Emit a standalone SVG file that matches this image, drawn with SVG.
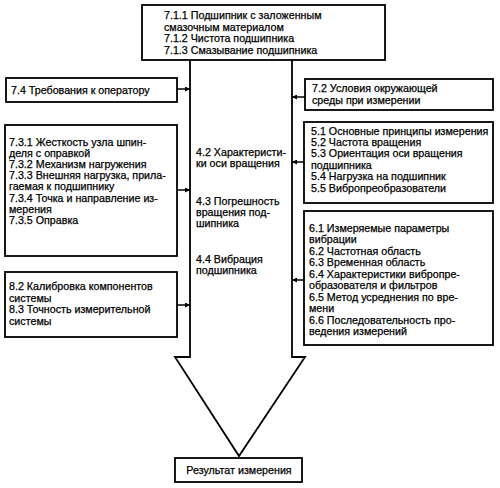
<svg xmlns="http://www.w3.org/2000/svg" width="500" height="488" viewBox="0 0 500 488">
<style>
.box{fill:#fff;stroke:#000;stroke-width:1.8}
.t{font-family:"Liberation Sans",Arial,sans-serif;font-size:10.7px;fill:#000;stroke:#000;stroke-width:0.25}
.c{fill:none;stroke:#000;stroke-width:1.5}
.big{fill:none;stroke:#000;stroke-width:1.8;stroke-linejoin:miter}
</style>
<defs>
<marker id="ah" viewBox="0 0 6 6" refX="6" refY="3" markerWidth="5" markerHeight="5" markerUnits="userSpaceOnUse" orient="auto">
<path d="M0,0 L6,3 L0,6 z" fill="#000"/>
</marker>
</defs>
<rect width="500" height="488" fill="#fff"/>
<g id="connectors">
<path class="big" d="M190,60 L190,357 L175,357 L239,456 L305,357 L292,357 L292,60"/>
<line class="c" x1="177" y1="89" x2="190" y2="89" marker-end="url(#ah)"/>
<line class="c" x1="177" y1="190" x2="190" y2="190" marker-end="url(#ah)"/>
<line class="c" x1="177" y1="305" x2="190" y2="305" marker-end="url(#ah)"/>
<line class="c" x1="305" y1="97" x2="292" y2="97" marker-end="url(#ah)"/>
<line class="c" x1="305" y1="162" x2="292" y2="162" marker-end="url(#ah)"/>
<line class="c" x1="305" y1="280" x2="292" y2="280" marker-end="url(#ah)"/>
</g>
<g id="n-top">
<rect class="box" x="142" y="5" width="243" height="55"/>
<text class="t" x="164" y="19">7.1.1 Подшипник с заложенным</text>
<text class="t" x="164" y="30.5">смазочным материалом</text>
<text class="t" x="164" y="42">7.1.2 Чистота подшипника</text>
<text class="t" x="164" y="53.5">7.1.3 Смазывание подшипника</text>
</g>
<g id="n-74">
<rect class="box" x="6" y="78" width="171" height="24"/>
<text class="t" x="11" y="93.5">7.4 Требования к оператору</text>
</g>
<g id="n-73">
<rect class="box" x="5" y="125" width="172" height="131"/>
<text class="t" x="9" y="145.5">7.3.1 Жесткость узла шпин-</text>
<text class="t" x="9" y="156.7">деля с оправкой</text>
<text class="t" x="9" y="167.9">7.3.2 Механизм нагружения</text>
<text class="t" x="9" y="179.1">7.3.3 Внешняя нагрузка, прила-</text>
<text class="t" x="9" y="190.3">гаемая к подшипнику</text>
<text class="t" x="9" y="201.5">7.3.4 Точка и направление из-</text>
<text class="t" x="9" y="212.7">мерения</text>
<text class="t" x="9" y="223.9">7.3.5 Оправка</text>
</g>
<g id="n-82">
<rect class="box" x="5" y="272" width="172" height="65"/>
<text class="t" x="9" y="290">8.2 Калибровка компонентов</text>
<text class="t" x="9" y="301.6">системы</text>
<text class="t" x="9" y="313.2">8.3 Точность измерительной</text>
<text class="t" x="9" y="324.8">системы</text>
</g>
<g id="n-center">
<text class="t" x="196" y="155.5">4.2 Характеристи-</text>
<text class="t" x="196" y="166.5">ки оси вращения</text>
<text class="t" x="196" y="204.5">4.3 Погрешность</text>
<text class="t" x="196" y="215.5">вращения под-</text>
<text class="t" x="196" y="226.5">шипника</text>
<text class="t" x="196" y="262.5">4.4 Вибрация</text>
<text class="t" x="196" y="273.5">подшипника</text>
</g>
<g id="n-72">
<rect class="box" x="305" y="79" width="188" height="31"/>
<text class="t" x="312" y="92">7.2 Условия окружающей</text>
<text class="t" x="312" y="104">среды при измерении</text>
</g>
<g id="n-5">
<rect class="box" x="304" y="122" width="189" height="81"/>
<text class="t" x="311" y="134.5">5.1 Основные принципы измерения</text>
<text class="t" x="311" y="145.9">5.2 Частота вращения</text>
<text class="t" x="311" y="157.3">5.3 Ориентация оси вращения</text>
<text class="t" x="311" y="168.7">подшипника</text>
<text class="t" x="311" y="180.1">5.4 Нагрузка на подшипник</text>
<text class="t" x="311" y="191.5">5.5 Вибропреобразователи</text>
</g>
<g id="n-6">
<rect class="box" x="304" y="211" width="189" height="134"/>
<text class="t" x="309" y="231.5">6.1 Измеряемые параметры</text>
<text class="t" x="309" y="243">вибрации</text>
<text class="t" x="309" y="254.5">6.2 Частотная область</text>
<text class="t" x="309" y="266">6.3 Временная область</text>
<text class="t" x="309" y="277.5">6.4 Характеристики вибропре-</text>
<text class="t" x="309" y="289">образователя и фильтров</text>
<text class="t" x="309" y="300.5">6.5 Метод усреднения по вре-</text>
<text class="t" x="309" y="312">мени</text>
<text class="t" x="309" y="323.5">6.6 Последовательность про-</text>
<text class="t" x="309" y="335">ведения измерений</text>
</g>
<g id="n-result">
<rect class="box" x="175" y="458" width="127" height="24"/>
<text class="t" x="239" y="474" text-anchor="middle">Результат измерения</text>
</g>
</svg>
